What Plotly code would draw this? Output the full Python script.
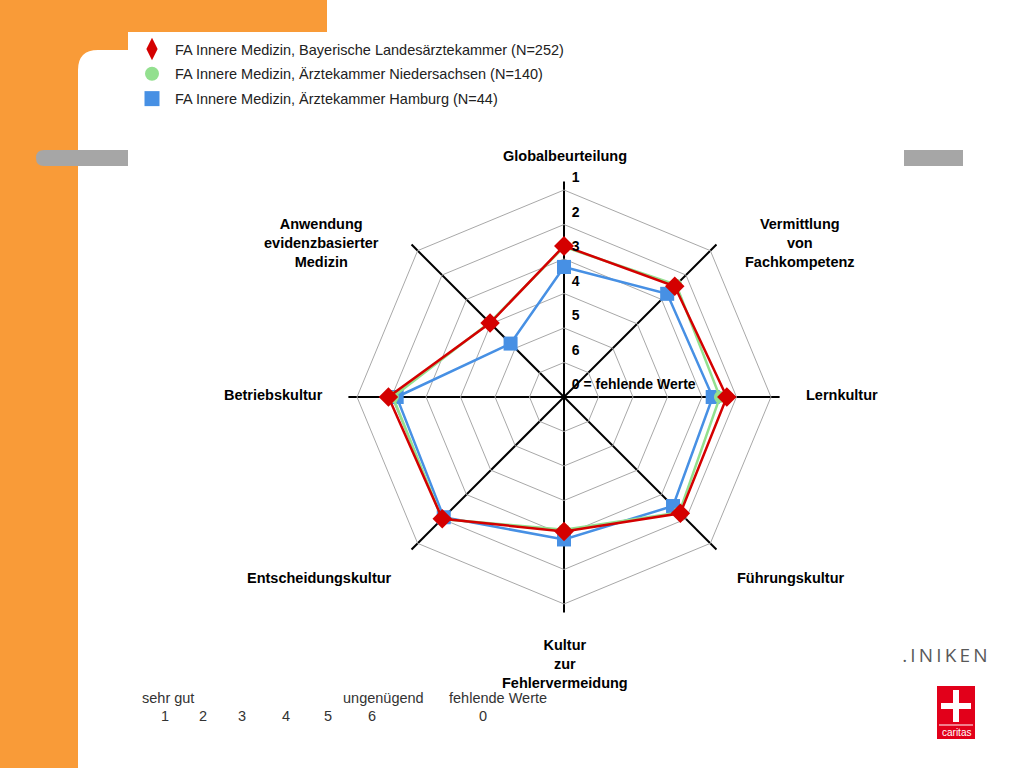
import plotly.graph_objects as go

# ---------------- data ----------------
categories = [
    "Globalbeurteilung",
    "Vermittlung von Fachkompetenz",
    "Lernkultur",
    "Führungskultur",
    "Kultur zur Fehlervermeidung",
    "Entscheidungskultur",
    "Betriebskultur",
    "Anwendung evidenzbasierter Medizin",
]
category_labels = [
    "Globalbeurteilung",
    "Vermittlung<br>von<br>Fachkompetenz",
    "Lernkultur",
    "Führungskultur",
    "Kultur<br>zur<br>Fehlervermeidung",
    "Entscheidungskultur",
    "Betriebskultur",
    "Anwendung<br>evidenzbasierter<br>Medizin",
]
series_names = [
    "FA Innere Medizin, Bayerische Landesärztekammer (N=252)",
    "FA Innere Medizin, Ärztekammer Niedersachsen (N=140)",
    "FA Innere Medizin, Ärztekammer Hamburg (N=44)",
]
# school grades (1 = sehr gut ... 6 = ungenügend)
grades_bayern = [2.62, 2.46, 2.28, 2.23, 3.10, 2.01, 1.91, 3.97]
grades_niedersachsen = [2.65, 2.40, 2.48, 2.27, 3.15, 2.00, 2.04, 3.95]
grades_hamburg = [3.23, 2.77, 2.69, 2.53, 2.87, 2.07, 2.15, 4.81]

radial_tick_pos = [0, 1, 2, 3, 4, 5, 6]
radial_tick_text = ["0 = fehlende Werte", "6", "5", "4", "3", "2", "1"]

scale_words = ["sehr gut", "ungenügend", "fehlende Werte"]
scale_numbers = ["1", "2", "3", "4", "5", "6", "0"]

# ---------------- helpers ----------------
W, H = 1024, 768
def px(x):
    return x / W
def py(y):
    return 1 - y / H

def to_r(grades):
    # grade 1 lies on the outer ring, grade 6 on the inner ring
    r = [7 - g for g in grades]
    return r + r[:1]

theta = categories + categories[:1]

FONT = "Liberation Sans, Arial, sans-serif"
RED = "#d40000"
GREEN = "#93e08f"
BLUE = "#4790e4"

fig = go.Figure()

# draw order: Hamburg (blue) bottom, Niedersachsen (green), Bayern (red) top
fig.add_trace(go.Scatterpolar(
    r=to_r(grades_hamburg), theta=theta, mode="lines+markers",
    line=dict(color=BLUE, width=2.5),
    marker=dict(symbol="square", size=14, color=BLUE),
    showlegend=False, hoverinfo="skip"))
fig.add_trace(go.Scatterpolar(
    r=to_r(grades_niedersachsen), theta=theta, mode="lines+markers",
    line=dict(color=GREEN, width=2.5),
    marker=dict(symbol="circle", size=12, color=GREEN),
    showlegend=False, hoverinfo="skip"))
fig.add_trace(go.Scatterpolar(
    r=to_r(grades_bayern), theta=theta, mode="lines+markers",
    line=dict(color=RED, width=2.5),
    marker=dict(symbol="diamond", size=15, color=RED),
    showlegend=False, hoverinfo="skip"))

# legend entries (markers only, like the original)
legend_styles = [
    dict(symbol="diamond-tall", size=19, color=RED),
    dict(symbol="circle", size=14, color=GREEN),
    dict(symbol="square", size=15, color=BLUE),
]
for i, (name, mk) in enumerate(zip(series_names, legend_styles)):
    fig.add_trace(go.Scatterpolar(
        r=[None], theta=[categories[0]], mode="markers", marker=mk,
        name=name, legendgroup=f"g{i}", showlegend=True))

# radial tick labels along the top axis (printed just above each ring)
fig.add_trace(go.Scatterpolar(
    r=[p + 0.12 for p in radial_tick_pos],
    theta=[categories[0]] * len(radial_tick_pos),
    mode="text",
    text=[f"\u00a0\u00a0<b>{t}</b>" for t in radial_tick_text],
    textposition="top right",
    textfont=dict(family=FONT, size=14, color="#000"),
    cliponaxis=False, showlegend=False, hoverinfo="skip"))

fig.update_layout(
    width=W, height=H,
    margin=dict(l=0, r=0, t=0, b=0),
    paper_bgcolor="white",
    plot_bgcolor="white",
    font=dict(family=FONT, size=14, color="#222"),
    polar=dict(
        domain=dict(x=[px(348.4), px(779.6)], y=[py(612.6), py(181.4)]),
        bgcolor="white",
        gridshape="linear",
        radialaxis=dict(
            range=[0, 6.25], tickvals=[1, 2, 3, 4, 5, 6],
            showticklabels=False, ticks="", showline=False,
            gridcolor="#a8a8a8", gridwidth=1, angle=90),
        angularaxis=dict(
            categoryarray=categories, categoryorder="array",
            direction="clockwise", rotation=90,
            showticklabels=False, ticks="", showline=False,
            gridcolor="#000", gridwidth=1.8),
    ),
    legend=dict(
        x=px(129), y=py(33), xanchor="left", yanchor="top",
        bgcolor="rgba(255,255,255,0)", borderwidth=0,
        font=dict(family=FONT, size=14.5, color="#222"),
        itemwidth=36,
        traceorder="grouped", tracegroupgap=3,
        itemclick=False, itemdoubleclick=False),
)

# ---------- slide decoration ----------
orange = "#f99b38"
fig.add_shape(type="path", xref="paper", yref="paper", layer="below",
              path=(f"M {px(0)},{py(0)} L {px(327)},{py(0)} L {px(327)},{py(32)} "
                    f"L {px(128)},{py(32)} L {px(128)},{py(50)} L {px(98)},{py(50)} "
                    f"Q {px(78)},{py(50)} {px(78)},{py(70)} L {px(78)},{py(768)} "
                    f"L {px(0)},{py(768)} Z"),
              fillcolor=orange, line=dict(width=0))
fig.add_shape(type="path", xref="paper", yref="paper", layer="below",
              path=(f"M {px(44)},{py(150)} L {px(128)},{py(150)} L {px(128)},{py(166)} "
                    f"L {px(44)},{py(166)} Q {px(36)},{py(166)} {px(36)},{py(158)} "
                    f"Q {px(36)},{py(150)} {px(44)},{py(150)} Z"),
              fillcolor="#a6a6a6", line=dict(width=0))
fig.add_shape(type="rect", xref="paper", yref="paper", layer="below",
              x0=px(904), x1=px(963), y0=py(166), y1=py(150),
              fillcolor="#a6a6a6", line=dict(width=0))

# caritas logo
fig.add_shape(type="rect", xref="paper", yref="paper",
              x0=px(937), x1=px(975), y0=py(739), y1=py(686),
              fillcolor="#e2001a", line=dict(width=0))
fig.add_shape(type="rect", xref="paper", yref="paper",
              x0=px(953), x1=px(959), y0=py(722), y1=py(690),
              fillcolor="white", line=dict(width=0))
fig.add_shape(type="rect", xref="paper", yref="paper",
              x0=px(941), x1=px(971), y0=py(709), y1=py(703),
              fillcolor="white", line=dict(width=0))
fig.add_shape(type="line", xref="paper", yref="paper",
              x0=px(939), x1=px(973), y0=py(725), y1=py(725),
              line=dict(color="white", width=1))
fig.add_annotation(x=px(956), y=py(732), xref="paper", yref="paper",
                   xanchor="center", yanchor="middle",
                   text="caritas", showarrow=False,
                   font=dict(family=FONT, size=10, color="white"))
fig.add_annotation(x=px(990), y=py(655), xref="paper", yref="paper",
                   xanchor="right", yanchor="middle",
                   text="\u2009.\u2009I\u2009N\u2009I\u2009K\u2009E\u2009N",
                   showarrow=False,
                   font=dict(family="Open Sans, sans-serif", size=19, color="#595959"))

# ---------- category labels ----------
label_pos = [(565, 156), (800, 243), (842, 395), (790, 578),
             (565, 664), (319, 578), (273, 395), (321, 243)]
for lab, (x, y) in zip(category_labels, label_pos):
    fig.add_annotation(x=px(x), y=py(y), xref="paper", yref="paper",
                       xanchor="center", yanchor="middle",
                       text=f"<b>{lab}</b>", showarrow=False, align="center",
                       font=dict(family=FONT, size=14.5, color="#000"))

# ---------- grade scale at the bottom ----------
word_pos = [140, 341, 447]
for w, x in zip(scale_words, word_pos):
    fig.add_annotation(x=px(x), y=py(698), xref="paper", yref="paper",
                       xanchor="left", yanchor="middle", text=w, showarrow=False,
                       font=dict(family=FONT, size=14.5, color="#333"))
num_pos = [165, 203, 242, 286, 328, 372, 483]
for n, x in zip(scale_numbers, num_pos):
    fig.add_annotation(x=px(x), y=py(716), xref="paper", yref="paper",
                       xanchor="center", yanchor="middle",
                       text=n, showarrow=False,
                       font=dict(family=FONT, size=14.5, color="#333"))

fig.write_html("out.html", config={"displayModeBar": False},
               post_script="document.body.style.margin='0px';document.body.style.overflow='hidden';")
